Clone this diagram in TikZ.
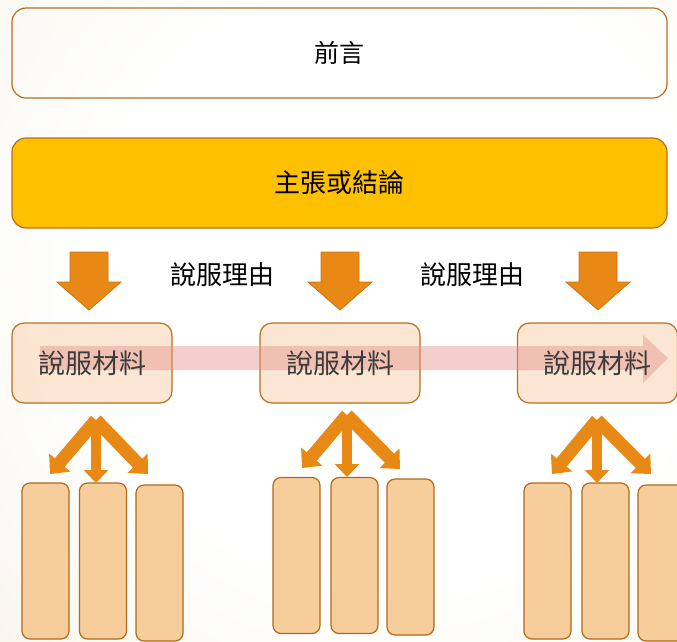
\documentclass[tikz,border=0pt]{standalone}
\usepackage{fontspec}
\setmainfont{Noto Sans CJK TC}
\usetikzlibrary{arrows.meta}
\definecolor{bord}{RGB}{184,112,26}
\definecolor{bgb}{RGB}{238,234,212}
\definecolor{gold}{RGB}{255,192,0}
\definecolor{orng}{RGB}{232,137,22}
\definecolor{orngd}{RGB}{205,115,20}
\definecolor{peach}{RGB}{251,226,204}
\definecolor{tallf}{RGB}{247,205,156}
\definecolor{tallb}{RGB}{176,106,26}
\definecolor{pinkar}{RGB}{228,150,140}
\definecolor{txtg}{RGB}{60,60,60}
\pgfdeclareradialshading{bgsh}{\pgfpoint{0bp}{0bp}}{color(0bp)=(white); color(14bp)=(white); color(40bp)=(bgb); color(50bp)=(bgb)}
\tikzset{
  bigbox/.style={draw=bord, line width=1.2pt, rounded corners=14pt, minimum width=655pt, minimum height=90pt},
  matbox/.style={draw=bord, line width=1.2pt, rounded corners=12pt, fill=peach, fill opacity=0.85, minimum width=160pt, minimum height=80pt},
  tallbox/.style={draw=tallb, line width=1.2pt, rounded corners=8pt, fill=tallf, minimum width=47pt, minimum height=156pt},
  blockarrow/.style={fill=orng, draw=orngd, line width=0.8pt},
  fan/.style={draw=orng, line width=13pt, -{Triangle[width=27pt,length=15pt]}},
  fanc/.style={draw=orng, line width=10pt, -{Triangle[width=24pt,length=13pt]}},
  reason/.style={font=\fontsize{26}{30}\selectfont},
  matlabel/.style={font=\fontsize{27}{30}\selectfont, text=txtg}
}
\begin{document}
\begin{tikzpicture}[x=1pt,y=-1pt]
\useasboundingbox (0,0) rectangle (677,641);
\shade[shading=bgsh] (-150,-270) rectangle (950,830);

% top boxes
\node[bigbox] (intro) at (339.5,53) {\fontsize{25}{30}\selectfont 前言};
\node[bigbox, fill=gold] (claim) at (339.5,183) {\fontsize{26}{30}\selectfont 主張或結論};

% down block arrows
\foreach \cx/\nm in {89/da1, 340/da2, 598/da3} {
  \coordinate (\nm) at (\cx,310);
  \draw[blockarrow] (\cx-19,252) -- (\cx+19,252) -- (\cx+19,282) -- (\cx+32,282)
     -- (\nm) -- (\cx-32,282) -- (\cx-19,282) -- cycle;
}

% reasons
\node[reason] (r1) at (222,275) {說服理由};
\node[reason] (r2) at (472,275) {說服理由};

% material boxes
\node[matbox] (m1) at (92,363) {};
\node[matbox] (m2) at (340,363) {};
\node[matbox] (m3) at (597.5,363) {};

% translucent pink arrow
\coordinate (pstart) at (40,358);
\coordinate (ptip) at (668,358);
\fill[pinkar, opacity=0.45] (40,346) -- (643,346) -- (643,335) -- (ptip) -- (643,383) -- (643,370) -- (40,370) -- cycle;

\node[matlabel] (l1) at (m1.center) {說服材料};
\node[matlabel] (l2) at (m2.center) {說服材料};
\node[matlabel] (l3) at (m3.center) {說服材料};

% tall boxes
\node[tallbox] (a1) at (45.5,561) {};
\node[tallbox] (b1) at (103,561) {};
\node[tallbox] (c1) at (159.5,563) {};
\node[tallbox] (a2) at (296.5,555.5) {};
\node[tallbox] (b2) at (354.5,555.5) {};
\node[tallbox] (c2) at (410.5,557) {};
\node[tallbox] (a3) at (547.5,561) {};
\node[tallbox] (b3) at (605.5,561) {};
\node[tallbox] (c3) at (661.5,563) {};

% fan arrows
\coordinate (ap1) at (96,420);
\coordinate (ap2) at (347,415);
\coordinate (ap3) at (597,420);
\coordinate (t1l) at (50,474); \coordinate (t1c) at (96,483); \coordinate (t1r) at (148,474);
\coordinate (t2l) at (302,468); \coordinate (t2c) at (347,477); \coordinate (t2r) at (400,469);
\coordinate (t3l) at (552,474); \coordinate (t3c) at (597,483); \coordinate (t3r) at (651,474);
\foreach \g in {1,2,3} {
  \draw[fan] (ap\g) -- (t\g l);
  \draw[fan] (ap\g) -- (t\g r);
  \draw[fanc] ([yshift=-4pt]ap\g) -- (t\g c);
}
\end{tikzpicture}
\end{document}
